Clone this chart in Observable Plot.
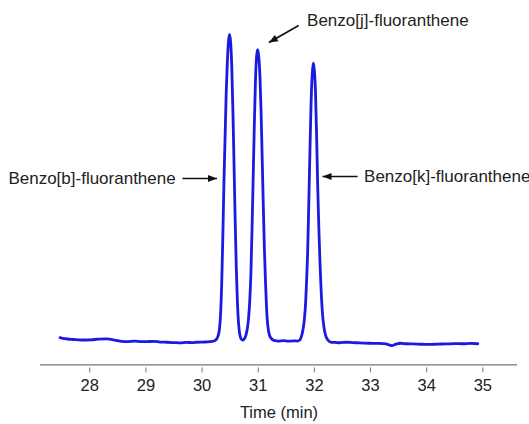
<!DOCTYPE html>
<html>
<head>
<meta charset="utf-8">
<script src="https://cdn.jsdelivr.net/npm/d3@7"></script>
<script src="https://cdn.jsdelivr.net/npm/@observablehq/plot@0.6"></script>
<style>
  html, body { margin: 0; padding: 0; background: #fff; }
  #chart { width: 529px; height: 424px; }
</style>
</head>
<body>
<div id="chart"></div>
<script>
// Detector trace: retention time (min) and signal (arbitrary units)
const times = [
  27.47, 27.52, 27.60, 27.71, 27.85, 28.01, 28.15, 28.31, 28.40, 28.48,
  28.57, 28.66, 28.80, 28.92, 29.02, 29.15, 29.25, 29.37, 29.50, 29.61,
  29.72, 29.82, 29.91, 30.02, 30.14, 30.21,
  30.25, 30.28, 30.31, 30.33, 30.35, 30.37, 30.39, 30.41, 30.43, 30.45,
  30.47, 30.49, 30.51, 30.53, 30.55, 30.57, 30.59, 30.61, 30.63, 30.65,
  30.67, 30.69, 30.72,
  30.75, 30.78, 30.81, 30.83, 30.85, 30.87, 30.89, 30.91, 30.93, 30.95,
  30.97, 30.99, 31.01, 31.03, 31.05, 31.07, 31.09, 31.11, 31.13, 31.15,
  31.17, 31.20, 31.24, 31.28,
  31.36, 31.45, 31.53, 31.62, 31.70,
  31.74, 31.77, 31.80, 31.82, 31.84, 31.86, 31.88, 31.90, 31.92, 31.94,
  31.96, 31.98, 32.00, 32.02, 32.04, 32.06, 32.08, 32.10, 32.12, 32.14,
  32.17, 32.20, 32.24, 32.29,
  32.37, 32.45, 32.56, 32.68, 32.80, 32.98, 33.12, 33.27, 33.33, 33.38,
  33.44, 33.53, 33.64, 33.76, 33.90, 34.06, 34.20, 34.35, 34.50, 34.65,
  34.78, 34.91
];
const signal = [
  7.9, 7.7, 7.5, 7.35, 7.2, 7.25, 7.45, 7.55, 7.35, 7.05,
  6.8, 6.75, 6.85, 6.7, 6.75, 6.8, 6.6, 6.55, 6.45, 6.35,
  6.5, 6.45, 6.55, 6.6, 6.7, 6.9,
  7.3, 8.2, 10.5, 15, 24, 38, 54, 67, 80, 89,
  95, 97.1, 94.5, 87, 74, 58, 42, 28, 18, 12,
  9, 7.7, 7.2,
  7.5, 8.6, 11, 14, 19, 27, 40, 55, 70, 83,
  90.5, 92.6, 90.5, 85, 75, 61, 47, 34, 24, 16,
  11.5, 8.6, 7.5, 7.1,
  6.9, 7.0, 6.85, 6.95, 6.9,
  7.2, 8.3, 10.5, 13, 17, 24, 33, 47, 62, 76,
  85, 88.6, 86.5, 80, 67, 52, 40, 30, 22, 16,
  11, 8.6, 7.2, 6.6,
  6.5, 6.4, 6.55, 6.45, 6.35, 6.25, 6.2, 6.05, 5.8, 5.55,
  5.9, 6.25, 6.1, 6.05, 5.95, 5.9, 6.0, 6.05, 6.15, 6.1,
  6.2, 6.1
];
const tickValues = [28, 29, 30, 31, 32, 33, 34, 35];
const peakNames = ["Benzo[b]-fluoranthene", "Benzo[j]-fluoranthene", "Benzo[k]-fluoranthene"];
const peakTimes = [30.49, 30.99, 31.98];

const trace = times.map((t, i) => ({t, s: signal[i]}));

// Peak labels with arrows: b points right from the left, k points left from the right,
// j points down-left from above. Heads are filled triangles drawn at the arrow tips.
const arrows = [
  {x1: peakTimes[0] - 0.84, y1: 54.7, x2: peakTimes[0] - 0.224, y2: 54.7, angle: 90},
  {x1: peakTimes[1] + 0.73, y1: 99.7, x2: peakTimes[1] + 0.20, y2: 94.7, angle: 240.5},
  {x1: peakTimes[2] + 0.79, y1: 55.3, x2: peakTimes[2] + 0.165, y2: 55.3, angle: 270}
];
const leftLabels = [
  {x: peakTimes[0] - 0.96, y: 54.7, text: peakNames[0]}
];
const rightLabels = [
  {x: peakTimes[1] + 0.88, y: 101.2, text: peakNames[1]},
  {x: peakTimes[2] + 0.905, y: 55.3, text: peakNames[2]}
];

// filled triangular arrowhead, pointing along the vector
const headShape = {
  draw(context, l, r) {
    context.moveTo(-r, 0);
    context.lineTo(0, -l);
    context.lineTo(r, 0);
    context.closePath();
  }
};

const chart = Plot.plot({
  width: 529,
  height: 424,
  marginLeft: 40,
  marginRight: 12,
  marginTop: 24,
  marginBottom: 56.6,
  style: {
    fontFamily: "'Liberation Sans', Arial, sans-serif",
    fontSize: "16px",
    color: "#222",
    background: "#fff"
  },
  x: {domain: [27.122, 35.618]},
  y: {domain: [-1, 100], axis: null},
  marks: [
    Plot.ruleY([-1], {dy: -3, stroke: "#555", strokeWidth: 1}),
    Plot.axisX({
      ticks: tickValues,
      tickFormat: d => String(d),
      tickSize: 5,
      tickPadding: 6,
      stroke: "#777",
      fill: "#222",
      fontSize: 16.5,
      label: "Time (min)",
      labelAnchor: "center",
      labelOffset: 50,
      labelArrow: "none"
    }),
    Plot.line(trace, {
      x: "t", y: "s",
      stroke: "#1a1ae0",
      strokeWidth: 2.8,
      curve: "monotone-x"
    }),
    Plot.link(arrows, {
      x1: "x1", y1: "y1", x2: "x2", y2: "y2",
      stroke: "#111",
      strokeWidth: 1.7
    }),
    Plot.vector(arrows, {
      x: "x2", y: "y2",
      rotate: "angle",
      length: 9,
      r: 3.6,
      anchor: "end",
      shape: headShape,
      fill: "#111",
      stroke: "none"
    }),
    Plot.text(leftLabels, {
      x: "x", y: "y", text: "text",
      textAnchor: "end",
      fontSize: 17,
      fill: "#222"
    }),
    Plot.text(rightLabels, {
      x: "x", y: "y", text: "text",
      textAnchor: "start",
      fontSize: 17,
      fill: "#222"
    })
  ]
});

document.getElementById("chart").appendChild(chart);
</script>
</body>
</html>
